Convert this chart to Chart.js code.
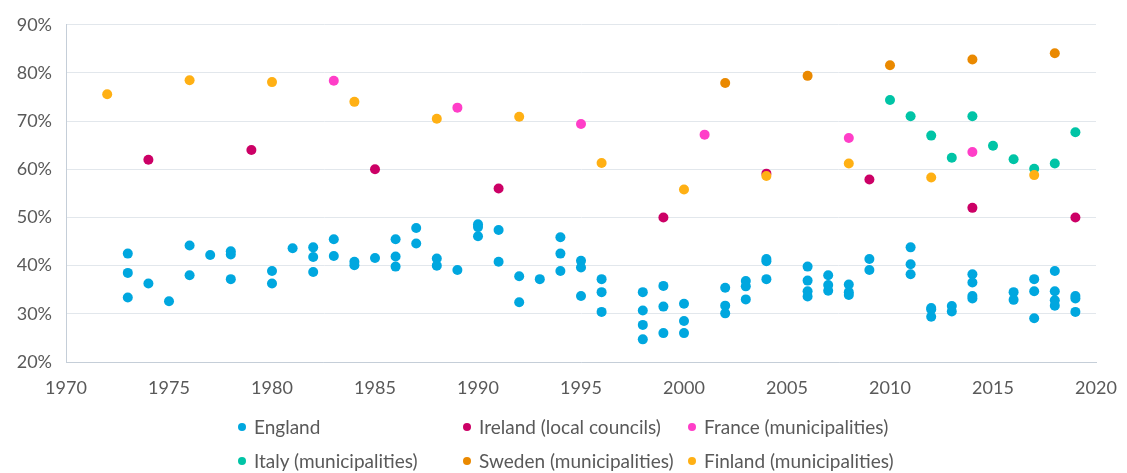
<!DOCTYPE html>
<html>
<head>
<meta charset="utf-8">
<script src="https://cdn.jsdelivr.net/npm/chart.js@4.4.1/dist/chart.umd.min.js"></script>
<style>
  html, body { margin: 0; padding: 0; background: #fff; }
  #wrap { position: relative; width: 1127px; height: 473px; }
  #legend { position: absolute; left: 0; top: 0; width: 1127px; height: 473px; pointer-events: none;
            font-family: Lato, "Open Sans", sans-serif; font-size: 19px; color: #595959; }
  .item { position: absolute; white-space: nowrap; line-height: 20px; }
  .dot { position: absolute; width: 8px; height: 8px; border-radius: 50%; left: -16px; top: 6px; }
</style>
</head>
<body>
<div id="wrap">
  <canvas id="myChart" width="1127" height="473"></canvas>
  <div id="legend"></div>
</div>
<script>
// England: several councils per year
const englandYears = [
  1973, 1973, 1973, 1974, 1975, 1976, 1976, 1977, 1978, 1978, 1978,
  1980, 1980, 1981, 1982, 1982, 1982, 1983, 1983, 1984, 1984, 1985,
  1986, 1986, 1986, 1987, 1987, 1988, 1988, 1989, 1990, 1990, 1990,
  1991, 1991, 1992, 1992, 1993, 1994, 1994, 1994, 1995, 1995, 1995,
  1996, 1996, 1996, 1998, 1998, 1998, 1998, 1999, 1999, 1999,
  2000, 2000, 2000, 2002, 2002, 2002, 2003, 2003, 2003, 2004, 2004, 2004,
  2006, 2006, 2006, 2006, 2007, 2007, 2007, 2008, 2008, 2008, 2009, 2009,
  2011, 2011, 2011, 2012, 2012, 2012, 2013, 2013, 2014, 2014, 2014, 2014,
  2016, 2016, 2017, 2017, 2017, 2018, 2018, 2018, 2018, 2019, 2019, 2019
];
const englandValues = [
  42.5, 38.5, 33.4, 36.3, 32.6, 44.2, 38.0, 42.2, 43.0, 42.3, 37.2,
  38.9, 36.3, 43.6, 43.8, 41.8, 38.7, 45.5, 42.0, 40.8, 40.1, 41.6,
  45.5, 41.9, 39.8, 47.8, 44.6, 41.5, 40.0, 39.1, 48.6, 48.0, 46.1,
  47.4, 40.8, 37.8, 32.4, 37.2, 45.9, 42.5, 38.9, 41.0, 39.6, 33.7,
  37.2, 34.5, 30.4, 34.5, 30.7, 27.7, 24.7, 35.8, 31.5, 26.0,
  32.1, 28.5, 26.0, 35.4, 31.7, 30.1, 36.8, 35.7, 33.0, 41.4, 40.9, 37.2,
  39.8, 36.9, 34.7, 33.6, 38.0, 36.0, 34.8, 36.1, 34.5, 33.9, 41.4, 39.1,
  43.8, 40.3, 38.2, 31.2, 30.9, 29.4, 31.6, 30.5, 38.2, 36.5, 33.7, 33.2,
  34.5, 32.9, 37.2, 34.7, 29.1, 38.9, 34.7, 32.8, 31.7, 33.7, 33.2, 30.4
];

const irelandYears = [1974, 1979, 1985, 1991, 1999, 2004, 2009, 2014, 2019];
const irelandValues = [62.0, 64.0, 60.0, 56.0, 50.0, 59.1, 57.9, 52.0, 50.0];

const franceYears = [1983, 1989, 1995, 2001, 2008, 2014];
const franceValues = [78.4, 72.8, 69.4, 67.2, 66.5, 63.6];

const italyYears = [2010, 2011, 2012, 2013, 2014, 2015, 2016, 2017, 2018, 2019];
const italyValues = [74.4, 71.0, 67.0, 62.4, 71.0, 64.9, 62.1, 60.1, 61.2, 67.7];

const swedenYears = [2002, 2006, 2010, 2014, 2018];
const swedenValues = [77.9, 79.4, 81.6, 82.8, 84.1];

const finlandYears = [1972, 1976, 1980, 1984, 1988, 1992, 1996, 2000, 2004, 2008, 2012, 2017];
const finlandValues = [75.6, 78.5, 78.1, 74.0, 70.5, 70.9, 61.3, 55.8, 58.6, 61.2, 58.3, 58.8];

const yTicks = [20, 30, 40, 50, 60, 70, 80, 90];

function pts(xs, ys) {
  return xs.map((x, i) => ({ x: x, y: ys[i] }));
}

// listed top-most first: Chart.js paints dataset 0 last
const series = [
  { label: "Finland (municipalities)", data: pts(finlandYears, finlandValues), color: "#ffb014" },
  { label: "Sweden (municipalities)", data: pts(swedenYears, swedenValues), color: "#ea8900" },
  { label: "Italy (municipalities)", data: pts(italyYears, italyValues), color: "#00c4a6" },
  { label: "France (municipalities)", data: pts(franceYears, franceValues), color: "#ff3ec8" },
  { label: "Ireland (local councils)", data: pts(irelandYears, irelandValues), color: "#cc0066" },
  { label: "England", data: pts(englandYears, englandValues), color: "#00a7df" }
];

const FONT = { family: "Lato, 'Open Sans', sans-serif", size: 18 };

const CHART = document.getElementById("myChart");
let scatter = new Chart(CHART, {
  type: 'scatter',
  data: {
    datasets: series.map(s => ({
      label: s.label,
      data: s.data,
      backgroundColor: s.color,
      borderWidth: 0,
      pointRadius: 5,
      pointHoverRadius: 5
    }))
  },
  options: {
    responsive: false,
    animation: false,
    layout: { padding: { top: 22, right: 31, bottom: 71, left: 0 } },
    plugins: { legend: { display: false }, tooltip: { enabled: false } },
    scales: {
      x: {
        type: 'linear',
        min: 1970, max: 2020,
        ticks: { stepSize: 5, color: "#595959", font: FONT, padding: 15, callback: v => String(v) },
        grid: { display: false, drawTicks: false },
        border: { color: "#c5ced8" },
        // fixed height and no side overflow so the plot spans 66..1096
        afterFit: s => { s.height = 40; s.paddingLeft = 0; s.paddingRight = 0; }
      },
      y: {
        min: 20, max: 90,
        afterBuildTicks: s => { s.ticks = yTicks.map(v => ({ value: v })); },
        ticks: { color: "#595959", font: FONT, padding: 14, callback: v => v + "%" },
        grid: { color: "#e2e7ec", drawTicks: false },
        border: { color: "#c5ced8" },
        afterFit: s => { s.width = 66; }
      }
    }
  }
});

// legend in the original's three-column grid, England first
const legend = document.getElementById("legend");
const cols = [254, 479, 704];
const rows = [417, 451];
series.slice().reverse().forEach((s, i) => {
  const el = document.createElement("div");
  el.className = "item";
  el.style.left = cols[i % 3] + "px";
  el.style.top = rows[Math.floor(i / 3)] + "px";
  el.innerHTML = '<span class="dot" style="background:' + s.color + '"></span>' + s.label;
  legend.appendChild(el);
});
</script>
</body>
</html>
